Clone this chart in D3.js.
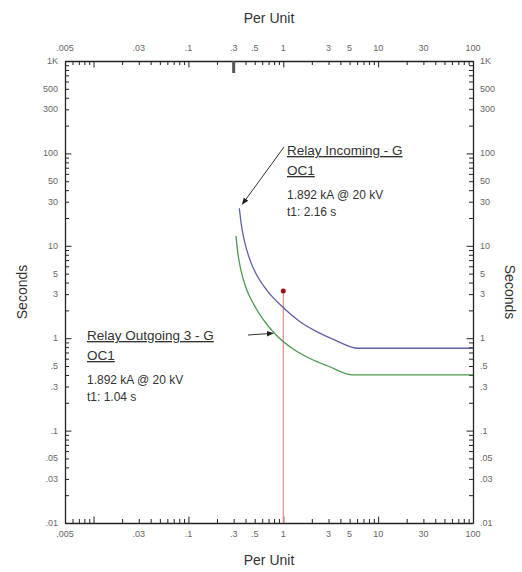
<!DOCTYPE html>
<html>
<head>
<meta charset="utf-8">
<script src="https://cdn.jsdelivr.net/npm/d3@7/dist/d3.min.js"></script>
<style>
  body { margin: 0; background: #fff; }
  svg { font-family: "Liberation Sans", Arial, sans-serif; }
</style>
</head>
<body>
<svg id="tcc" width="522" height="572"></svg>
<script>
// tick labels
const xTickLabels = [0.005, 0.03, 0.1, 0.3, 0.5, 1, 3, 5, 10, 30, 100];
const yTickLabels = [1000, 500, 300, 100, 50, 30, 10, 5, 3, 1, 0.5, 0.3, 0.1, 0.05, 0.03, 0.01];

// curves: [per unit, seconds]
const incomingCurve = [[0.344, 25.5], [0.364, 16.1], [0.395, 10.6], [0.446, 7.0], [0.525, 4.83],
  [0.669, 3.32], [0.962, 2.23], [1.5, 1.51], [2.25, 1.18], [3.37, 0.973], [6.18, 0.778], [100, 0.778]];
const outgoingCurve = [[0.317, 12.8], [0.333, 8.15], [0.359, 5.34], [0.405, 3.49], [0.48, 2.40],
  [0.61, 1.61], [0.82, 1.11], [1.27, 0.764], [1.96, 0.596], [2.96, 0.50], [5.43, 0.40], [100, 0.40]];

// fault marker at 1 pu
const faultPoint = [1, 3.24];
const topMarker = 0.3;

const svg = d3.select('#tcc');

const cs = {
  palette: {
    axis: '#222',
    label: '#666',
    title: '#333',
    incoming: '#5d62a8',
    outgoing: '#4f9a4f',
    fault: '#e58a8a',
    faultDot: '#a01010',
  },
  x: { range: [65, 473] },
  y: { range: [523, 61] },
};

cs.x.scale = d3.scaleLog().domain([0.005, 100]).range(cs.x.range);
cs.y.scale = d3.scaleLog().domain([0.01, 1000]).range(cs.y.range);

const fmt = (v) => {
  if (v >= 1000) return `${v / 1000}K`;
  if (v < 1) return String(v).replace(/^0/, '');
  return String(v);
};

/**
 * minor ticks 1..9 for every decade of a log scale
 */
const minorTicks = (lo, hi) => {
  const out = [];
  for (let e = Math.floor(Math.log10(lo)); e <= Math.ceil(Math.log10(hi)); e += 1) {
    for (let m = 1; m <= 9; m += 1) {
      const v = m * (10 ** e);
      if (v >= lo * 0.999 && v <= hi * 1.001) out.push(v);
    }
  }
  return out;
};

const drawAxis = () => {
  const [x0, x1] = cs.x.range;
  const [y0, y1] = cs.y.range;
  const xt = minorTicks(0.005, 100);
  const yt = minorTicks(0.01, 1000);
  const isMajor = v => Math.abs(Math.log10(v) - Math.round(Math.log10(v))) < 1e-6;

  const axes = [
    { axis: d3.axisTop(cs.x.scale), t: `translate(0,${y1})`, ticks: xt },
    { axis: d3.axisBottom(cs.x.scale), t: `translate(0,${y0})`, ticks: xt },
    { axis: d3.axisLeft(cs.y.scale), t: `translate(${x0},0)`, ticks: yt },
    { axis: d3.axisRight(cs.y.scale), t: `translate(${x1},0)`, ticks: yt },
  ];
  axes.forEach((a) => {
    const g = svg.append('g').attr('transform', a.t)
      .call(a.axis.tickValues(a.ticks).tickFormat('').tickSizeOuter(0).tickSizeInner(-4));
    g.select('.domain').attr('stroke', cs.palette.axis).attr('stroke-width', 1.3);
    g.selectAll('.tick line')
      .attr('stroke', cs.palette.axis)
      .attr('stroke-width', 1)
      .each(function (d) {
        if (isMajor(d)) {
          const sel = d3.select(this);
          if (sel.attr('x2') !== null && +sel.attr('x2') !== 0) sel.attr('x2', +sel.attr('x2') * 1.6);
          if (sel.attr('y2') !== null && +sel.attr('y2') !== 0) sel.attr('y2', +sel.attr('y2') * 1.6);
        }
      });
  });

  // tick labels
  xTickLabels.forEach((v) => {
    [y1 - 10, y0 + 14].forEach((ty) => {
      svg.append('text').attr('x', cs.x.scale(v)).attr('y', ty)
        .attr('text-anchor', 'middle').attr('font-size', 9)
        .attr('fill', cs.palette.label).text(fmt(v));
    });
  });
  yTickLabels.forEach((v) => {
    svg.append('text').attr('x', x0 - 7).attr('y', cs.y.scale(v) + 3)
      .attr('text-anchor', 'end').attr('font-size', 9)
      .attr('fill', cs.palette.label).text(fmt(v));
    svg.append('text').attr('x', x1 + 7).attr('y', cs.y.scale(v) + 3)
      .attr('text-anchor', 'start').attr('font-size', 9)
      .attr('fill', cs.palette.label).text(fmt(v));
  });

  // axis titles
  const cx = (x0 + x1) / 2;
  const cy = (y0 + y1) / 2;
  svg.append('text').attr('x', cx).attr('y', 23).attr('text-anchor', 'middle')
    .attr('font-size', 14).attr('fill', cs.palette.title).text('Per Unit');
  svg.append('text').attr('x', cx).attr('y', 565).attr('text-anchor', 'middle')
    .attr('font-size', 14).attr('fill', cs.palette.title).text('Per Unit');
  svg.append('text').attr('transform', `translate(27,${cy}) rotate(-90)`).attr('text-anchor', 'middle')
    .attr('font-size', 14).attr('fill', cs.palette.title).text('Seconds');
  svg.append('text').attr('transform', `translate(505,${cy}) rotate(90)`).attr('text-anchor', 'middle')
    .attr('font-size', 14).attr('fill', cs.palette.title).text('Seconds');

  // thick marker below top axis
  svg.append('rect').attr('x', cs.x.scale(topMarker) - 1.5).attr('y', y1)
    .attr('width', 3).attr('height', 12).attr('fill', '#555');
};

const lineFunction = d3.line()
  .x(d => cs.x.scale(d[0]))
  .y(d => cs.y.scale(d[1]))
  .curve(d3.curveMonotoneX);

const drawCurves = () => {
  // fault line + dot
  svg.append('line')
    .attr('x1', cs.x.scale(faultPoint[0])).attr('x2', cs.x.scale(faultPoint[0]))
    .attr('y1', cs.y.scale(faultPoint[1])).attr('y2', cs.y.range[0])
    .attr('stroke', cs.palette.fault).attr('stroke-width', 1.2);
  svg.append('circle')
    .attr('cx', cs.x.scale(faultPoint[0])).attr('cy', cs.y.scale(faultPoint[1]))
    .attr('r', 2.5).attr('fill', cs.palette.faultDot);

  [[incomingCurve, cs.palette.incoming], [outgoingCurve, cs.palette.outgoing]].forEach(([c, col]) => {
    svg.append('path').attr('d', lineFunction(c))
      .attr('fill', 'none').attr('stroke', col).attr('stroke-width', 1.3);
  });
};

const drawLabels = () => {
  const defs = svg.append('defs');
  defs.append('marker').attr('id', 'arrow').attr('viewBox', '0 0 10 10')
    .attr('refX', 9).attr('refY', 5).attr('markerWidth', 7).attr('markerHeight', 7)
    .attr('orient', 'auto-start-reverse')
    .append('path').attr('d', 'M0,1 L10,5 L0,9 z').attr('fill', '#222');

  const notes = [
    { lines: ['Relay Incoming - G', 'OC1', '1.892 kA @ 20 kV', 't1: 2.16 s'], x: 287, y: 155,
      from: [284, 147], to: incomingCurve[0], dx: 3, dy: -4 },
    { lines: ['Relay Outgoing 3 - G', 'OC1', '1.892 kA @ 20 kV', 't1: 1.04 s'], x: 87, y: 340,
      from: [248, 335], to: [0.8, 1.13], dx: -1, dy: 0 },
  ];
  notes.forEach((n) => {
    const offs = [0, 20, 44, 61];
    n.lines.forEach((l, i) => {
      const t = svg.append('text').attr('x', n.x).attr('y', n.y + offs[i])
        .attr('font-size', i < 2 ? 13.5 : 12).attr('fill', '#333').text(l);
      if (i < 2) t.attr('text-decoration', 'underline');
    });
    svg.append('line')
      .attr('x1', n.from[0]).attr('y1', n.from[1])
      .attr('x2', cs.x.scale(n.to[0]) + n.dx).attr('y2', cs.y.scale(n.to[1]) + n.dy)
      .attr('stroke', '#333').attr('stroke-width', 1)
      .attr('marker-end', 'url(#arrow)');
  });
};

drawAxis();
drawCurves();
drawLabels();
</script>
</body>
</html>
